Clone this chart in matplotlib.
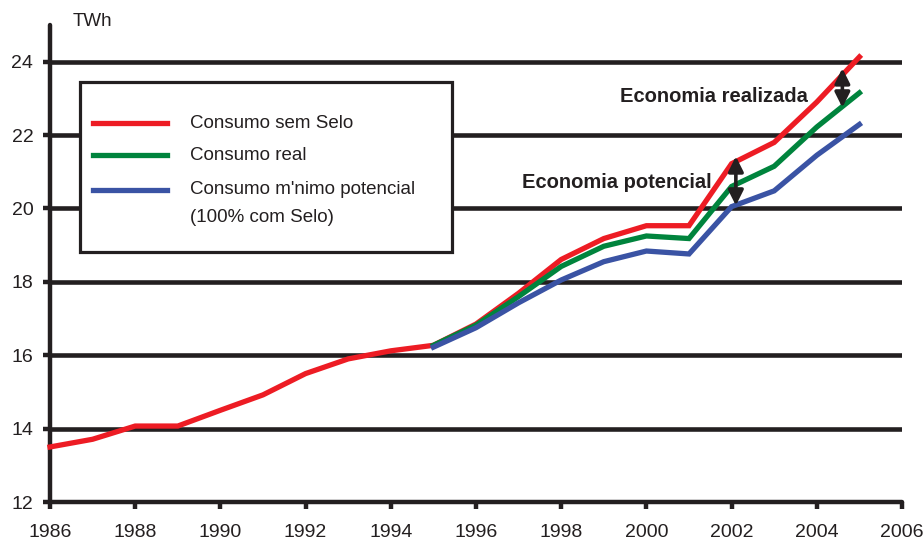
import matplotlib
matplotlib.use("Agg")
import matplotlib.pyplot as plt
from matplotlib.patches import Rectangle
from matplotlib.lines import Line2D

plt.rcParams['font.family'] = ['Liberation Sans', 'DejaVu Sans']

# Annual electricity consumption (TWh)
years_sem_selo = list(range(1986, 2006))
consumo_sem_selo = [13.50, 13.71, 14.07, 14.07, 14.50, 14.92, 15.50, 15.90, 16.12, 16.27,
                    16.85, 17.69, 18.61, 19.18, 19.53, 19.53, 21.22, 21.80, 22.90, 24.13]

years_selo = list(range(1995, 2006))
consumo_real = [16.27, 16.82, 17.60, 18.42, 18.97, 19.25, 19.18, 20.60, 21.15, 22.22, 23.15]
consumo_minimo = [16.22, 16.75, 17.43, 18.05, 18.55, 18.84, 18.76, 20.05, 20.48, 21.45, 22.29]

series_labels = ["Consumo sem Selo", "Consumo real",
                 "Consumo m'nimo potencial", "(100% com Selo)"]
series_colors = ["#ED1C24", "#00843D", "#3A53A4"]

x_ticks = list(range(1986, 2007, 2))
y_ticks = list(range(12, 25, 2))

ink = "#231F20"
W, H = 923, 545

fig = plt.figure(figsize=(W / 100, H / 100), dpi=100)
ax = fig.add_axes([50 / W, 1 - 502 / H, (902 - 50) / W, (502 - 25) / H])

# horizontal reference lines
for yv in y_ticks[1:]:
    ax.axhline(yv, color=ink, lw=3.3, zorder=1, solid_capstyle='round')

ax.plot(years_sem_selo, consumo_sem_selo, color=series_colors[0], lw=3.8, zorder=3,
        solid_joinstyle='miter', clip_on=False)
ax.plot(years_selo, consumo_real, color=series_colors[1], lw=3.8, zorder=4,
        solid_joinstyle='miter')
ax.plot(years_selo, consumo_minimo, color=series_colors[2], lw=3.8, zorder=5,
        solid_joinstyle='miter')

ax.set_xlim(1986, 2006)
ax.set_ylim(12, 25)
ax.set_xticks(x_ticks)
ax.set_yticks(y_ticks)
ax.tick_params(axis='both', direction='out', length=5, width=3.2, color=ink,
               labelsize=14, labelcolor=ink)
ax.tick_params(axis='y', pad=7)
ax.tick_params(axis='x', pad=11)
for side in ('top', 'right'):
    ax.spines[side].set_visible(False)
for side in ('left', 'bottom'):
    ax.spines[side].set_linewidth(3.2)
    ax.spines[side].set_color(ink)
    ax.spines[side].set_capstyle('round')

# savings arrows and labels
arrow_kw = dict(arrowstyle='<|-|>,head_length=0.9,head_width=0.45', lw=2.6, color=ink,
                mutation_scale=10, shrinkA=0, shrinkB=0)
ax.annotate('', xy=(2002.1, 21.42), xytext=(2002.1, 20.08), arrowprops=arrow_kw, zorder=6)
ax.annotate('', xy=(2004.6, 23.82), xytext=(2004.6, 22.75), arrowprops=arrow_kw, zorder=6)
ax.text(1999.38, 23.06, "Economia realizada", fontsize=14.5, fontweight='bold',
        color=ink, va='center', ha='left', zorder=7)
ax.text(1997.08, 20.72, "Economia potencial", fontsize=14.5, fontweight='bold',
        color=ink, va='center', ha='left', zorder=7)

fig.text(73 / W, 1 - 21 / H, "TWh", fontsize=13.5, color=ink, va='center', ha='left')

# legend box
def fx(px):
    return px / W

def fy(py):
    return 1 - py / H

box = Rectangle((fx(80), fy(252)), fx(452) - fx(80), fy(82) - fy(252),
                transform=fig.transFigure, facecolor='white', edgecolor=ink,
                lw=2.3, zorder=10)
fig.add_artist(box)
rows = [123, 155, 190]
for i, py in enumerate(rows):
    fig.add_artist(Line2D([fx(93), fx(167)], [fy(py), fy(py)], transform=fig.transFigure,
                          color=series_colors[i], lw=3.8, zorder=11))
for label, py in zip(series_labels, rows + [218]):
    fig.text(fx(190), fy(py), label, fontsize=13.5, color=ink, va='center', ha='left',
             zorder=11)

fig.savefig("out.png", dpi=100)
